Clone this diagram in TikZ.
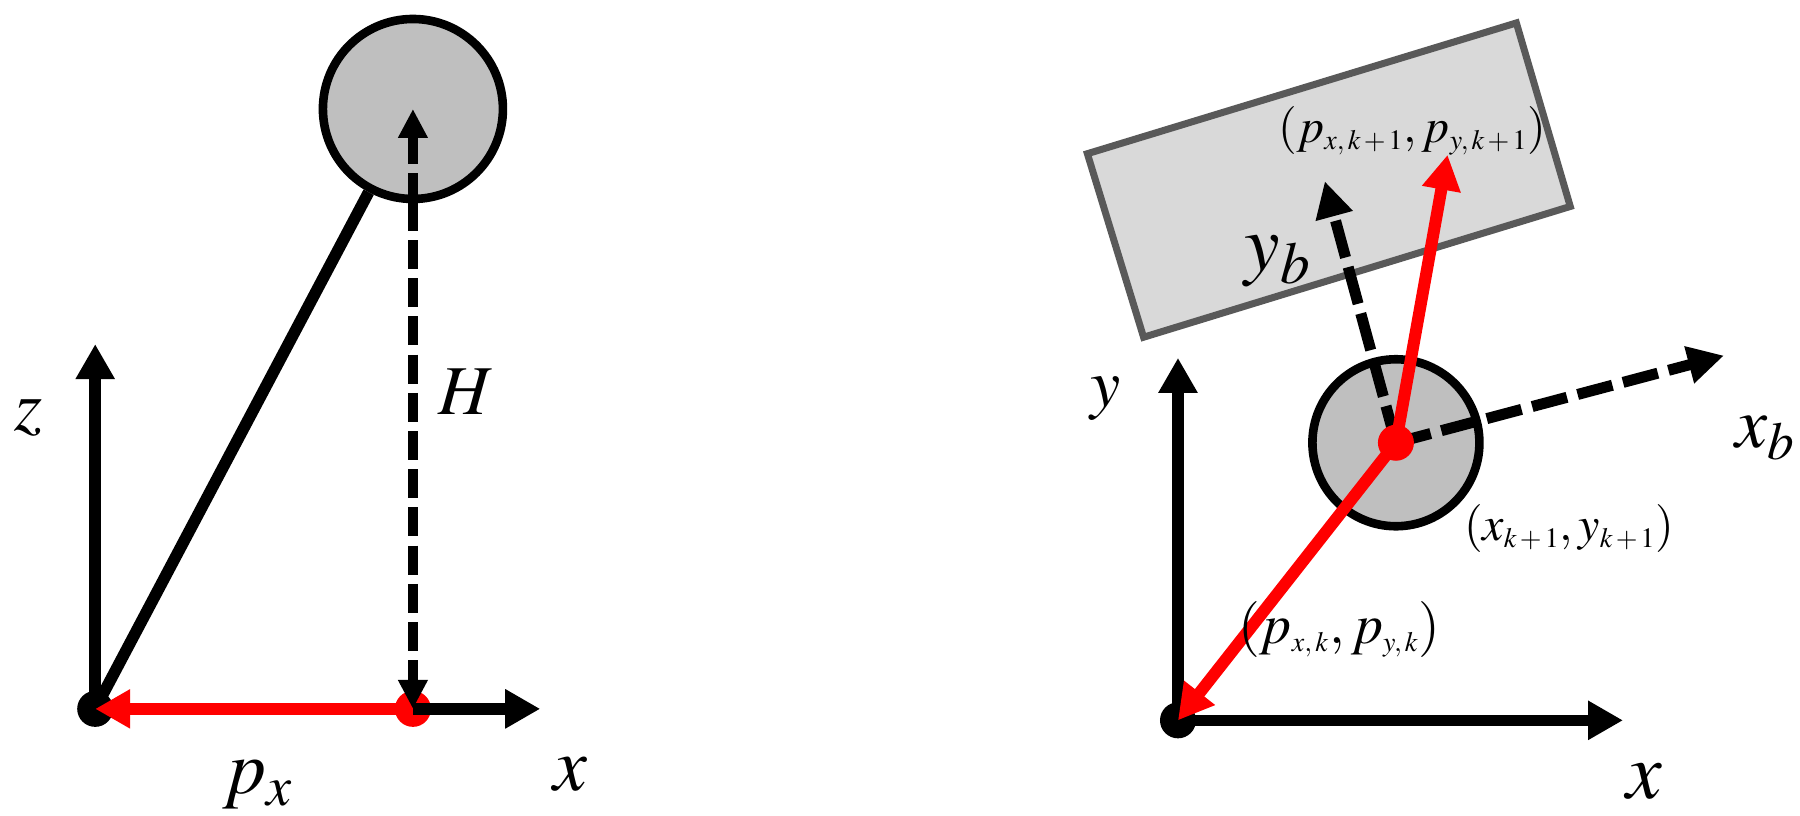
\documentclass[tikz,border=0pt]{standalone}
\usepackage{mathptmx}
\usetikzlibrary{arrows.meta}
\newcommand{\fs}[1]{\fontsize{#1}{#1}\selectfont}
\newcommand{\sbx}[1]{_{\mbox{\fs{14pt}$#1$}}}
\definecolor{ballgray}{HTML}{BFBFBF}
\definecolor{platefill}{HTML}{D9D9D9}
\definecolor{plateedge}{HTML}{595959}
\tikzset{
  x=0.5735pt,y=-0.5735pt,
  lbl/.style={inner sep=0pt,anchor=base west,text=black},
  axis/.style={line width=5.8pt,-{Triangle[length=17.5pt,width=18.5pt]}},
  redarrow/.style={draw=red,line width=#1,-{Triangle[length=17.5pt,width=18.5pt]}},
  dashline/.style={line width=4.7pt,dash pattern=on 14.5pt off 4.6pt},
  dashhead/.style={-{Triangle[length=14.5pt,width=14pt]}},
  dashbig/.style={line width=5.5pt,-{Triangle[length=18pt,width=18pt]}},
  ball/.style={circle,draw=black,fill=ballgray,line width=4.3pt,inner sep=0pt,minimum size=#1},
  dotb/.style={circle,fill=black,inner sep=0pt,minimum size=18pt},
  dotr/.style={circle,fill=red,inner sep=0pt,minimum size=18pt},
}
\begin{document}
\begin{tikzpicture}
\useasboundingbox (0,0) rectangle (1569.3,710.6);
% left
\coordinate (ztip) at (83,300);
\coordinate (xtip) at (471,618);
\node[dotb] (o1) at (83,618) {};
\node[ball=90pt] (c1) at (360,95) {};
\node[dotr] (r1) at (360,618) {};
\draw[axis] (o1.center) -- (ztip);
\draw[axis] (r1.center) -- (xtip);
\draw[line width=5.8pt] (o1.center) -- (c1.242);
\draw[redarrow=6pt] (r1.center) -- (o1.center);
\draw[dashline,dashhead] (360,176) -- (r1.center);
\coordinate (htop) at (360,95);
\draw[dashline,dashhead] (360,176) -- (htop);
\node[lbl] (lz) at (12,375) {\fs{36pt}$z$};
\node[lbl] (lh) at (382,361) {\fs{35pt}$H$};
\node[lbl] (lx1) at (482,689) {\fs{38pt}$x$};
\node[lbl] (lp) at (194,692) {\fs{38pt}$p_x$};
% right
\draw[draw=plateedge,fill=platefill,line width=3.5pt,line join=miter] (948,134) -- (1322,20) -- (1369,180) -- (997,294) -- cycle;
\node[ball=83.5pt] (c2) at (1217,386) {};
\node[dotb] (o2) at (1027,628) {};
\coordinate (y2tip) at (1027,312);
\coordinate (x2tip) at (1415,628);
\coordinate (ybtip) at (1155,158);
\coordinate (xbtip) at (1503,310);
\coordinate (ptip) at (1262,135);
\draw[axis] (o2.center) -- (y2tip);
\draw[axis] (o2.center) -- (x2tip);
\draw[dashbig,dash pattern=on 19pt off 5pt] (c2.center) -- (ybtip);
\draw[dashbig,dash pattern=on 18pt off 5.5pt] (c2.center) -- (xbtip);
\draw[redarrow=6pt] (c2.center) -- (ptip);
\draw[redarrow=6pt] (c2.center) -- (o2.center);
\node[dotr] (r2) at (c2.center) {};
\node[lbl] (ly) at (950,354) {\fs{34pt}$y$};
\node[lbl] (lxb) at (1513,390) {\fs{36pt}$x_b$};
\node[lbl] (lyb) at (1085,236) {\fs{40pt}$y_b$};
\node[lbl] (lx2) at (1418,696) {\fs{40pt}$x$};
\node[lbl] (lp1) at (1114,124) {\fs{24pt}$(p\sbx{x,k\,{+}\,1},p\sbx{y,k\,{+}\,1})$};
\node[lbl] (lp2) at (1079,561) {\fs{28pt}$(p\sbx{x,k},p\sbx{y,k})$};
\node[lbl] (lx3) at (1276,471) {\fs{24pt}$(x\sbx{k\,{+}\,1},y\sbx{k\,{+}\,1})$};
\end{tikzpicture}
\end{document}
